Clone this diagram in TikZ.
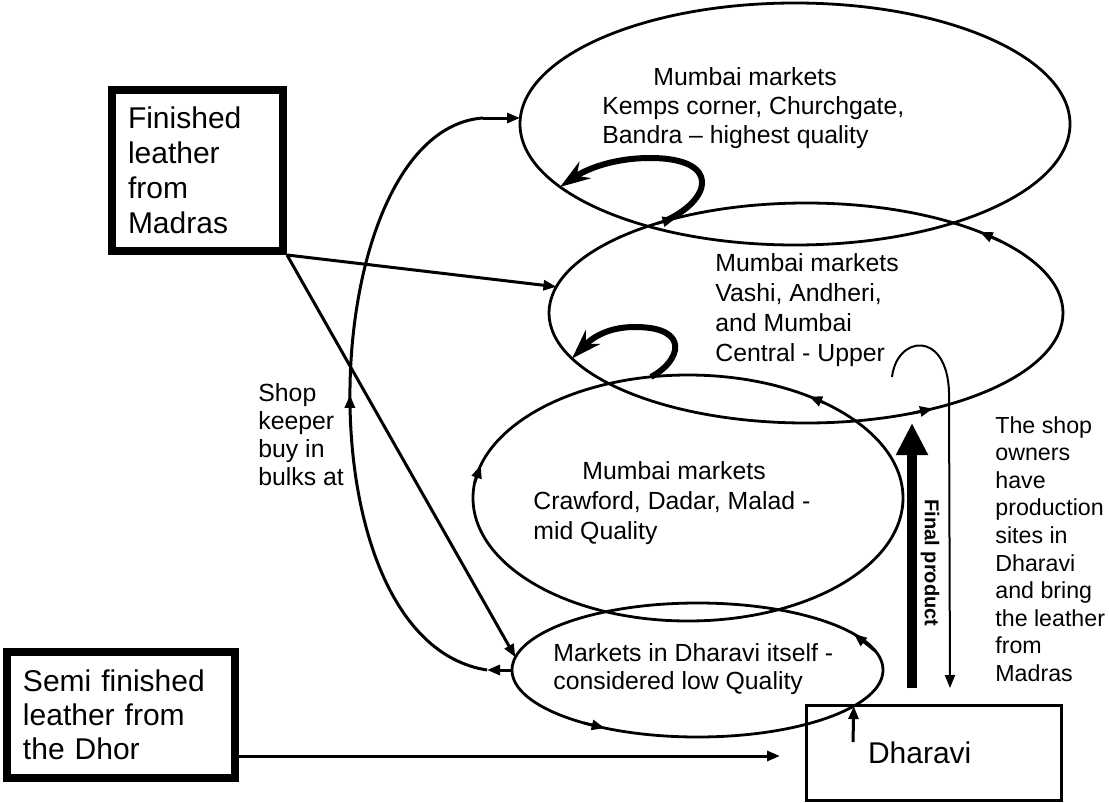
\documentclass[tikz,border=0pt]{standalone}
\usepackage{fontspec}
\setmainfont{Liberation Sans}
\usetikzlibrary{shapes.geometric,arrows.meta,decorations.markings}

\tikzset{
  market/.style={draw, ellipse, line width=1.4pt, inner sep=0pt, outer sep=0pt},
  srcbox/.style={draw, line width=4pt, align=left, inner xsep=8pt, inner ysep=0pt, font=\fontsize{15}{17.5}\selectfont},
  note/.style={align=left, inner sep=0pt, anchor=west},
  flow/.style={line width=1.5pt, -{Triangle[length=6.5pt,width=5pt]}},
  tipmark/.style={line width=1.4pt, -{Triangle[length=6.5pt,width=5pt]}},
  selfloop/.style={line width=3pt, -{Stealth[length=15pt,width=10pt,inset=5pt]}},
}

\begin{document}
\begin{tikzpicture}[x=0.5pt, y=-0.5pt]
\useasboundingbox (0,0) rectangle (1109,803);

\node[market, minimum width=275pt, minimum height=121pt] (e1) at (795,124) {};
\node[market, minimum width=257pt, minimum height=110pt] (e2) at (806,313) {};
\node[market, minimum width=215pt, minimum height=123pt] (e3) at (688,498) {};
\node[market, minimum width=185.5pt, minimum height=67pt] (e4) at (697.5,670) {};

\node[note, font=\fontsize{12.4}{14.5}\selectfont] (t1) at (602,108) {\hspace*{25.5pt}Mumbai markets\\Kemps corner, Churchgate,\\Bandra – highest quality};
\node[note, font=\fontsize{12.4}{15}\selectfont] (t2) at (715,310) {Mumbai markets\\Vashi, Andheri,\\and Mumbai\\Central - Upper};
\node[note, font=\fontsize{12.4}{15}\selectfont] (t3) at (533,503) {\hspace*{24.5pt}Mumbai markets\\Crawford, Dadar, Malad -\\mid Quality};
\node[note, font=\fontsize{12.4}{14}\selectfont] (t4) at (553,669) {Markets in Dharavi itself -\\considered low Quality};

\node[srcbox, text width=69.5pt, minimum height=80.5pt] (madras) at (197.5,170.5) {Finished\\leather\\from\\Madras};
\node[srcbox, text width=98pt, minimum height=63pt, font=\fontsize{15}{17}\selectfont] (dhor) at (121,715) {Semi finished\\leather from\\the Dhor};
\node[srcbox, line width=1.6pt, inner xsep=30.75pt, text width=66pt, minimum height=47.5pt] (dharavi) at (934,752.75) {Dharavi};

\node[note, font=\fontsize{12.4}{14}\selectfont] (bulk) at (258,435) {Shop\\keeper\\buy in\\bulks at};
\node[note, font=\fontsize{11.6}{13.8}\selectfont] (owners) at (995,549) {The shop\\owners\\have\\production\\sites in\\Dharavi\\and bring\\the leather\\from\\Madras};
\node[font=\bfseries\fontsize{10}{12}\selectfont, rotate=-90, inner sep=0pt] (fp) at (930,563) {Final product};

\coordinate (bulkend) at (487,670);
\coordinate (bulktop) at (483,118);
\coordinate (dhorin) at (780,756);
\coordinate (dharup) at (853,742);
\coordinate (fpfoot) at (912,688);
\coordinate (fphead) at (912,423);
\coordinate (ownstart) at (892,377);
\coordinate (ownend) at (950,688);

\draw[flow] (madras.south east) -- (e2.174);
\draw[flow] (madras.south east) -- (e4.176);
\draw[flow] (e4.west) -- (bulkend);
\draw[line width=1.5pt, postaction={decorate}, decoration={markings, mark=at position 0.5 with {\arrow{Triangle[length=6.5pt,width=5pt]}}}]
  (bulkend) .. controls (295,640) and (315,130) .. (bulktop);
\draw[flow] (bulktop) -- (bulktop -| e1.west);
\draw[flow] (dhor.east |- dhorin) -- (dhorin);
\draw[flow] (dharup) -- (e4.347);
\draw[line width=5pt, -{Triangle[length=16pt,width=15pt]}] (fpfoot) -- (fphead);
\draw[line width=1pt, -{Triangle[length=6.5pt,width=5pt]}] (ownstart) .. controls (897,335) and (947,330) .. (949,392) -- (ownend);

\draw[selfloop] (e2.147) .. controls (712,200) and (722,158) .. (650,158) .. controls (612,158) and (585,170) .. (e1.195);
\draw[selfloop] (e3.107) .. controls (680,362) and (692,327) .. (635,327) .. controls (605,327) and (590,340) .. (e2.191);

\draw[tipmark] (e2.149) -- (e2.144);
\draw[tipmark] (e2.20) -- (e2.25);
\draw[tipmark] (e2.317) -- (e2.323);
\draw[tipmark] (e3.35) -- (e3.40);
\draw[tipmark] (e3.176) -- (e3.171);
\draw[tipmark] (e4.6) -- (e4.13);
\draw[tipmark] (e4.205) -- (e4.212);
\end{tikzpicture}
\end{document}
